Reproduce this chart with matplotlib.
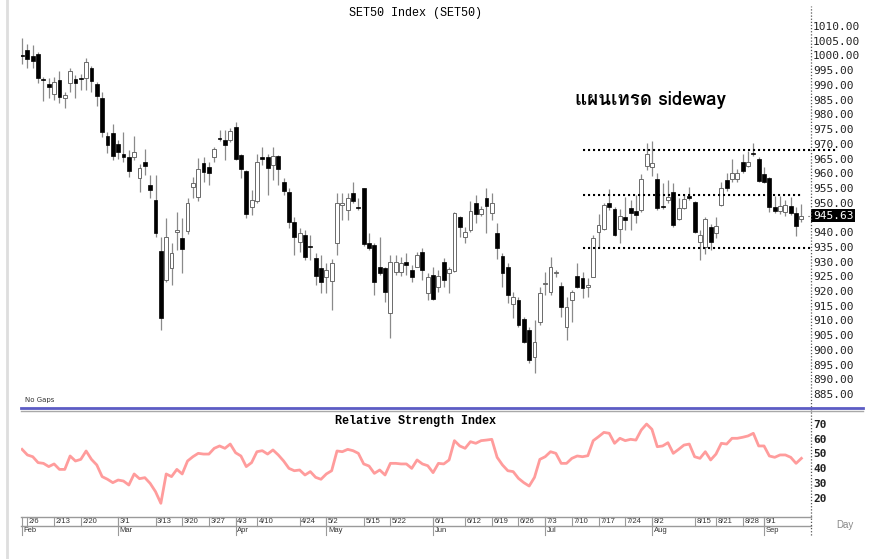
import numpy as np
import pandas as pd
import matplotlib
matplotlib.use("Agg")
import matplotlib.pyplot as plt
import matplotlib.transforms as mtransforms
from matplotlib import font_manager
from matplotlib.ft2font import FT2Font
from matplotlib.lines import Line2D

# SET50 daily candles 3 Feb - 12 Sep 2023
opens = [1000.3, 1001.8, 999.8, 1000.4, 992.1, 990.3, 986.8, 991.7, 985.7, 990.7,
         991.9, 992.4, 992.2, 995.6, 990.2, 985.4, 972.7, 973.5, 969.8, 966.7,
         965.6, 965.6, 958.3, 963.9, 956.0, 950.9, 933.6, 923.9, 927.7, 939.9,
         937.9, 940.4, 955.2, 952.0, 963.6, 962.2, 965.6, 972.0, 971.3, 971.3,
         975.8, 966.2, 960.9, 948.6, 950.6, 965.6, 965.6, 962.8, 966.0, 957.1,
         953.5, 943.5, 936.7, 939.0, 935.0, 931.3, 927.7, 924.9, 923.4, 936.2,
         949.2, 947.5, 953.2, 948.6, 954.9, 936.2, 935.6, 928.0, 927.9, 912.4,
         926.6, 926.3, 929.7, 927.1, 928.3, 933.4, 919.2, 925.4, 921.2, 929.7,
         926.0, 926.9, 945.0, 938.4, 940.7, 949.8, 946.0, 951.5, 946.4, 939.6,
         931.9, 928.3, 915.6, 916.9, 910.4, 906.7, 897.5, 909.6, 922.5, 919.8,
         926.2, 921.7, 907.9, 916.9, 925.1, 924.5, 921.4, 924.9, 940.1, 940.9,
         950.0, 947.7, 940.9, 945.2, 948.1, 947.2, 947.5, 962.4, 962.0, 957.9,
         948.9, 950.9, 953.7, 944.3, 948.1, 952.3, 950.3, 936.6, 934.9, 941.8,
         939.6, 949.2, 957.7, 957.9, 957.9, 963.9, 962.4, 966.9, 965.0, 959.6,
         958.5, 948.6, 947.3, 946.9, 948.9, 946.6, 944.3]
highs = [1005.8, 1003.8, 1003.5, 1001.3, 992.8, 992.4, 992.8, 994.7, 987.7, 995.8,
         993.4, 993.6, 999.0, 996.5, 991.1, 987.5, 974.1, 976.6, 971.3, 973.9,
         967.9, 972.7, 963.3, 968.2, 959.4, 959.4, 938.4, 944.7, 936.2, 946.7,
         944.7, 951.5, 958.8, 965.3, 965.6, 963.9, 969.0, 974.7, 974.7, 975.2,
         977.5, 966.7, 961.1, 954.3, 966.7, 969.0, 966.7, 969.0, 966.2, 958.3,
         955.1, 945.2, 941.3, 940.7, 939.0, 932.8, 932.2, 929.4, 930.9, 953.2,
         953.2, 953.2, 957.1, 951.5, 955.1, 939.6, 936.2, 938.4, 928.3, 932.2,
         932.2, 931.7, 932.8, 928.8, 933.4, 934.5, 926.2, 928.0, 927.1, 931.1,
         928.0, 946.9, 945.5, 941.8, 950.7, 952.6, 948.9, 954.9, 953.2, 943.0,
         932.8, 929.4, 919.8, 918.1, 911.3, 907.9, 910.2, 921.2, 926.6, 931.6,
         927.1, 923.2, 918.1, 920.5, 929.4, 926.6, 924.3, 939.0, 946.1, 949.8,
         954.8, 948.6, 948.0, 952.0, 950.9, 952.6, 959.9, 970.4, 971.0, 960.2,
         956.6, 957.7, 956.6, 951.5, 952.6, 955.4, 950.7, 940.7, 945.0, 942.7,
         945.0, 957.1, 960.2, 965.0, 961.3, 966.7, 967.6, 970.4, 965.6, 962.2,
         958.8, 952.3, 952.3, 950.9, 952.0, 948.4, 949.5]
lows = [997.0, 995.6, 995.6, 990.5, 984.5, 985.4, 984.9, 983.7, 982.3, 987.7,
        985.4, 988.3, 988.3, 987.7, 983.0, 972.4, 967.0, 964.5, 965.0, 963.9,
        958.8, 964.5, 953.5, 959.4, 951.5, 938.5, 906.7, 923.0, 922.0, 933.9,
        926.0, 939.5, 951.5, 950.5, 957.0, 956.0, 963.9, 971.0, 964.5, 970.7,
        964.5, 958.3, 944.7, 945.8, 949.8, 962.8, 952.6, 957.7, 956.0, 952.6,
        941.3, 932.2, 933.4, 930.5, 930.5, 922.0, 919.2, 919.2, 913.5, 932.2,
        944.1, 944.1, 949.8, 947.5, 935.4, 933.9, 918.6, 925.6, 916.4, 903.9,
        925.4, 925.0, 925.4, 923.2, 928.0, 923.7, 916.9, 916.9, 919.8, 921.5,
        919.2, 926.6, 938.4, 936.2, 940.1, 943.0, 945.5, 939.8, 944.1, 930.8,
        921.5, 916.0, 910.7, 907.9, 902.2, 895.4, 892.0, 908.4, 918.6, 918.6,
        924.9, 911.3, 903.3, 909.6, 920.9, 917.5, 918.1, 924.6, 935.0, 940.7,
        947.5, 938.7, 936.2, 940.7, 940.7, 943.0, 946.9, 961.1, 959.0, 947.5,
        948.0, 949.8, 941.8, 944.1, 947.7, 950.9, 939.6, 930.5, 932.5, 933.9,
        938.0, 948.8, 954.0, 957.0, 957.0, 960.0, 962.0, 966.0, 957.0, 956.6,
        946.9, 946.6, 946.0, 945.5, 945.8, 938.7, 943.5]
closes = [999.8, 998.8, 998.1, 992.4, 991.8, 989.2, 991.1, 986.0, 986.6, 994.8,
          990.5, 992.0, 997.9, 991.3, 986.3, 973.9, 969.6, 966.0, 967.1, 965.6,
          960.7, 967.1, 961.9, 962.6, 954.3, 939.6, 910.9, 938.2, 933.0, 940.7,
          934.1, 949.8, 956.8, 961.3, 960.5, 960.0, 968.1, 971.5, 969.6, 974.3,
          965.0, 961.4, 946.1, 950.9, 963.7, 965.0, 961.9, 966.0, 961.3, 953.9,
          943.5, 938.5, 939.6, 931.7, 934.8, 925.2, 922.9, 927.1, 929.4, 949.8,
          949.8, 951.7, 950.6, 948.1, 935.8, 934.7, 922.9, 926.2, 919.5, 929.7,
          929.7, 929.4, 929.0, 924.9, 932.2, 927.1, 924.9, 917.2, 925.1, 923.7,
          927.4, 946.4, 941.8, 940.1, 947.3, 946.1, 947.7, 948.9, 949.8, 934.7,
          926.2, 918.6, 918.1, 908.4, 902.8, 896.5, 902.8, 919.4, 922.8, 928.2,
          926.6, 914.7, 914.7, 919.7, 921.4, 920.9, 922.2, 937.9, 942.4, 949.2,
          948.4, 939.0, 945.5, 944.1, 946.6, 945.8, 957.9, 966.5, 963.4, 948.1,
          948.4, 952.0, 942.4, 948.1, 951.1, 951.5, 940.1, 939.0, 944.4, 936.7,
          942.1, 954.9, 954.9, 960.2, 960.2, 960.9, 963.7, 966.5, 957.5, 957.1,
          948.4, 947.3, 948.9, 949.2, 946.4, 942.1, 945.63]
rsi = [52.8, 49.0, 47.8, 43.8, 43.3, 41.1, 42.9, 39.2, 39.2, 48.3,
       44.9, 46.0, 51.7, 46.0, 42.2, 34.3, 32.5, 30.2, 32.0, 31.3,
       28.6, 36.1, 32.9, 33.6, 29.7, 24.1, 16.2, 36.1, 34.3, 39.2,
       36.1, 44.9, 47.8, 50.1, 49.6, 49.6, 53.5, 55.1, 53.5, 56.4,
       50.5, 48.3, 41.1, 43.8, 51.2, 51.9, 49.6, 52.4, 49.0, 44.9,
       39.9, 38.3, 38.8, 35.4, 37.7, 33.8, 32.5, 36.1, 38.3, 51.7,
       51.2, 52.8, 51.9, 50.1, 42.9, 41.5, 36.5, 38.8, 35.4, 43.3,
       43.3, 42.9, 42.9, 39.9, 45.6, 42.9, 41.7, 37.0, 43.3, 42.9,
       45.6, 58.7, 55.1, 53.5, 58.0, 56.9, 58.7, 59.1, 59.6, 47.4,
       42.2, 38.3, 37.7, 33.1, 30.2, 27.9, 33.8, 46.0, 47.8, 51.2,
       50.1, 43.3, 43.3, 46.7, 48.3, 47.8, 48.5, 58.7, 61.4, 64.3,
       63.7, 56.9, 60.3, 58.7, 59.6, 59.1, 65.9, 70.0, 66.4, 54.6,
       55.1, 57.3, 50.1, 52.8, 55.7, 56.4, 47.8, 46.7, 51.2, 45.6,
       49.6, 56.9, 56.4, 60.3, 60.3, 61.0, 61.9, 63.7, 55.1, 55.1,
       48.3, 47.4, 49.0, 49.0, 47.4, 43.3, 46.7]

holidays = ['2023-03-06', '2023-04-06', '2023-04-14', '2023-04-17', '2023-05-01',
            '2023-05-04', '2023-05-05', '2023-06-05', '2023-07-28', '2023-08-01',
            '2023-08-14']
week_labels = ['2/6', '2/13', '2/20', '3/1', '3/13', '3/20', '3/27', '4/3', '4/10',
               '4/24', '5/2', '5/15', '5/22', '6/1', '6/12', '6/19', '6/26', '7/3',
               '7/10', '7/17', '7/24', '8/2', '8/15', '8/21', '8/28', '9/1']
price_ticks = [885, 890, 895, 900, 905, 910, 915, 920, 925, 930, 935, 940, 950,
               955, 960, 965, 970, 975, 980, 985, 990, 995, 1000, 1005, 1010]
rsi_ticks = [20, 30, 40, 50, 60, 70]
sideway_levels = [968.0, 952.5, 934.5]
sideway_from = '2023-07-12'

dates = pd.bdate_range('2023-02-03', '2023-09-12')
dates = dates[~dates.isin(pd.to_datetime(holidays))]
x = np.arange(len(dates))
o = np.array(opens); h = np.array(highs); l = np.array(lows); c = np.array(closes)


def thai_font():
    # first installed font that actually has Thai glyphs
    for f in font_manager.fontManager.ttflist:
        try:
            if FT2Font(f.fname).get_char_index(0x0E41):
                return f.name
        except Exception:
            pass
    return 'DejaVu Sans'


W, H = 878, 559
fig = plt.figure(figsize=(W / 100, H / 100), dpi=100)
fx = lambda px: px / W
fy = lambda py: 1 - py / H

ax = fig.add_axes([fx(21), fy(407), fx(811) - fx(21), fy(6) - fy(407)])
ax2 = fig.add_axes([fx(21), fy(517), fx(811) - fx(21), fy(410) - fy(517)])

# candles
up = c >= o
ax.vlines(x, l, h, color='#8a8a8a', lw=0.9, zorder=1)
body = np.maximum(np.abs(c - o), 0.35)
ax.bar(x[up], body[up], bottom=np.minimum(o, c)[up], width=0.72,
       facecolor='white', edgecolor='#6a6a6a', linewidth=0.7, zorder=2)
ax.bar(x[~up], body[~up], bottom=np.minimum(o, c)[~up], width=0.72,
       facecolor='black', edgecolor='black', linewidth=0.5, zorder=2)

# sideway range lines
i0 = dates.get_loc(pd.Timestamp(sideway_from))
last = len(dates) - 1
for lev, end in zip(sideway_levels, [last + 6.5, last, last + 2]):
    ax.plot([i0, end], [lev, lev], color='black', lw=1.5,
            linestyle=(0, (1, 1.4)), clip_on=False, zorder=3)

ax.set_xlim(-0.2, 147.8)
ax.set_ylim(880.6, 1016.8)
ax.yaxis.tick_right()
ax.set_yticks(price_ticks)
ax.set_yticklabels(['%.2f' % t for t in price_ticks], family='DejaVu Sans Mono',
                   fontsize=8, color='#222222')
ax.tick_params(axis='y', length=0, pad=1.5)
ax.set_xticks([])
for s in ax.spines.values():
    s.set_visible(False)

ax.text(1.0025, c[-1], '%.2f' % c[-1], transform=ax.get_yaxis_transform(),
        ha='left', va='center', family='DejaVu Sans Mono', fontsize=8,
        color='white', bbox=dict(facecolor='black', edgecolor='none', pad=1.2))
ax.plot([last + 1.3, last + 2.2], [c[-1], c[-1]], color='#444', lw=0.8,
        linestyle=':', clip_on=False)

ax.text(0.5, 0.983, 'SET50 Index (SET50)', transform=ax.transAxes, ha='center',
        va='center', family='Liberation Mono', fontsize=8.5)
ax.text(0.005, 0.01, 'No Gaps', transform=ax.transAxes, ha='left', va='bottom',
        fontsize=5, color='#333333')
ax.text(103.6, 985.0, 'แผนเทรด sideway', ha='left', va='center',
        family=[thai_font(), 'DejaVu Sans'], fontsize=13.5, fontweight='bold')

# RSI panel
ax2.plot(x, rsi, color='#ff9c9c', lw=2)
ax2.set_xlim(-0.2, 147.8)
ax2.set_ylim(6.9, 79.5)
ax2.yaxis.tick_right()
ax2.set_yticks(rsi_ticks)
ax2.set_yticklabels([str(t) for t in rsi_ticks], family='DejaVu Sans Mono',
                    fontsize=8, fontweight='bold', color='#222222')
ax2.tick_params(axis='y', length=0, pad=1.5)
ax2.set_xticks([])
for s in ax2.spines.values():
    s.set_visible(False)
ax2.text(0.5, 0.9, 'Relative Strength Index', transform=ax2.transAxes,
         ha='center', va='center', family='Liberation Mono', fontsize=8.5,
         fontweight='bold')

# date scale under the RSI panel
tr = mtransforms.blended_transform_factory(ax2.transData, fig.transFigure)
for py in (517, 526):
    fig.add_artist(Line2D([fx(21), fx(811)], [fy(py), fy(py)], color='#9a9a9a', lw=1))
for lab in week_labels:
    mth, day = lab.split('/')
    i = dates.get_loc(pd.Timestamp(2023, int(mth), int(day)))
    ax2.plot([i, i], [fy(517), fy(526)], transform=tr, color='#9a9a9a', lw=0.8,
             clip_on=False)
    ax2.text(i + 0.3, fy(521.5), lab, transform=tr, ha='left', va='center',
             fontsize=5.5, color='#333333', family='Liberation Sans')
for m in sorted(set(dates.month)):
    i = int(np.argmax(dates.month == m))
    ax2.plot([i, i], [fy(517), fy(535)], transform=tr, color='#9a9a9a', lw=0.8,
             clip_on=False)
    ax2.text(i + 0.3, fy(530.5), dates[i].strftime('%b'), transform=tr, ha='left',
             va='center', fontsize=5.5, color='#333333', family='Liberation Sans')

# frame lines
fig.add_artist(Line2D([fx(811), fx(811)], [fy(535), fy(6)], color='#555555', lw=0.9,
                      linestyle=(0, (1, 1.5))))
fig.add_artist(Line2D([fx(21), fx(863)], [fy(407.5), fy(407.5)], color='#5c5cc4', lw=2))
fig.add_artist(Line2D([fx(21), fx(863)], [fy(410.5), fy(410.5)], color='#a8a8a8', lw=1))
fig.add_artist(Line2D([fx(7.5), fx(7.5)], [0, 1], color='#dedede', lw=2))
fig.text(fx(845), fy(525), 'Day', ha='center', va='center', fontsize=7,
         color='#888888', family='Liberation Sans')

fig.savefig('out.png', dpi=100)
